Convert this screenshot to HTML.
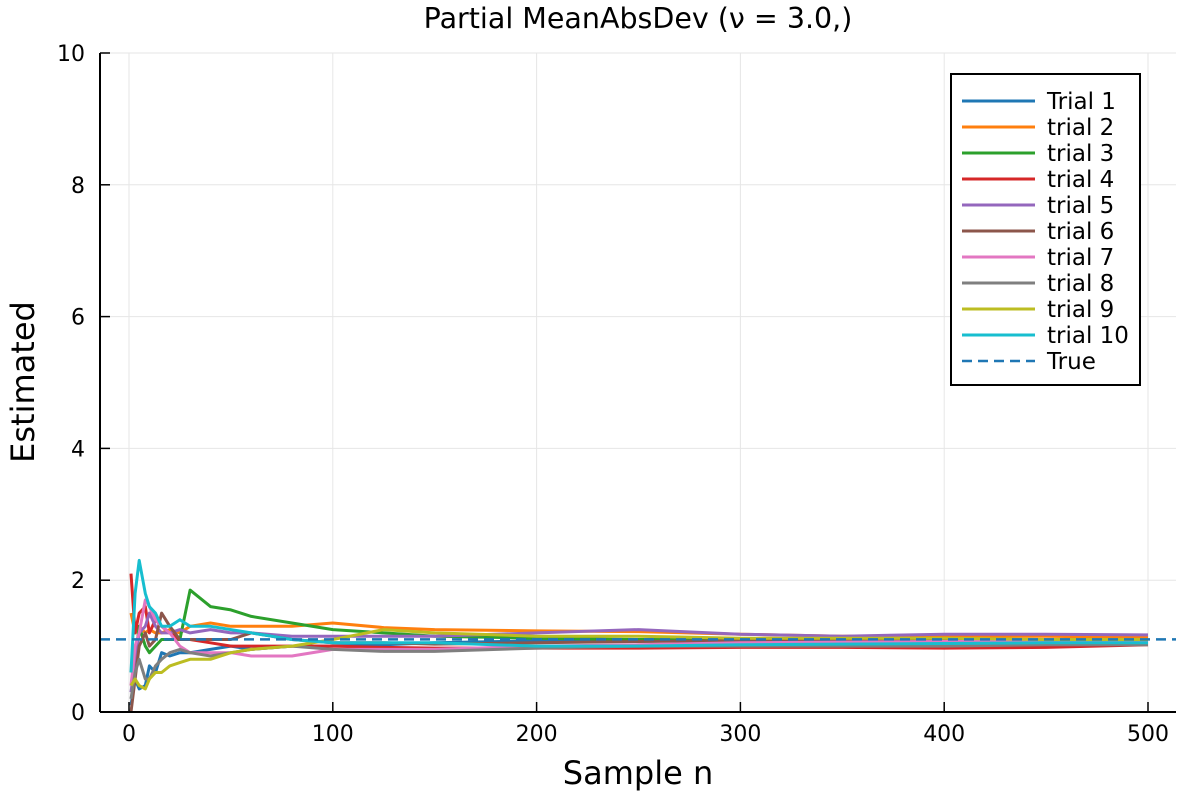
<!DOCTYPE html>
<html><head><meta charset="utf-8"><style>
body{margin:0;background:#fff;}
svg text{font-family:"DejaVu Sans","Liberation Sans",sans-serif;fill:#000;}
</style></head><body>
<svg id="chart" width="1200" height="800" xmlns="http://www.w3.org/2000/svg">
<rect width="1200" height="800" fill="#fff"/>
<g id="grid"></g>
<g id="series"></g>
<g id="axes"></g>
<text x="638" y="28" text-anchor="middle" font-size="28.5">Partial MeanAbsDev (ν = 3.0,)</text>
<text x="638" y="784" text-anchor="middle" font-size="32">Sample n</text>
<text transform="translate(34,382) rotate(-90)" text-anchor="middle" font-size="32">Estimated</text>
<g id="legend"></g>
</svg>
<script>
const sampleN=[1,3,5,8,10,13,16,20,25,30,40,50,60,80,100,125,150,200,250,300,350,400,450,500];
const seriesNames=["Trial 1","trial 2","trial 3","trial 4","trial 5","trial 6","trial 7","trial 8","trial 9","trial 10"];
const trial1=[0.1,0.5,0.35,0.4,0.7,0.6,0.9,0.85,0.9,0.9,0.95,1.0,0.95,1.0,1.0,1.02,1.05,1.08,1.1,1.1,1.1,1.1,1.1,1.1];
const trial2=[1.5,1.2,1.3,1.2,1.25,1.2,1.2,1.25,1.2,1.3,1.35,1.3,1.3,1.3,1.35,1.28,1.25,1.23,1.22,1.18,1.15,1.15,1.15,1.13];
const trial3=[0.6,0.8,1.3,1.0,0.9,1.0,1.1,1.1,1.1,1.85,1.6,1.55,1.45,1.35,1.25,1.2,1.15,1.12,1.1,1.1,1.1,1.1,1.1,1.09];
const trial4=[2.1,1.2,1.5,1.6,1.2,1.4,1.3,1.2,1.1,1.1,1.05,1.0,1.0,1.0,1.0,0.98,0.97,0.97,0.97,0.98,0.98,0.97,0.98,1.02];
const trial5=[0.3,0.8,1.2,1.3,1.5,1.3,1.2,1.2,1.25,1.2,1.25,1.2,1.2,1.15,1.15,1.15,1.15,1.2,1.25,1.18,1.15,1.18,1.18,1.17];
const trial6=[0.0,0.5,1.0,1.2,1.0,1.1,1.5,1.3,1.1,1.1,1.1,1.1,1.2,1.1,1.05,1.05,1.03,1.05,1.07,1.08,1.1,1.1,1.1,1.1];
const trial7=[0.4,1.0,1.2,1.7,1.6,1.4,1.3,1.2,1.0,0.9,0.9,0.9,0.85,0.85,0.95,0.95,0.95,1.0,1.02,1.05,1.06,1.07,1.07,1.07];
const trial8=[0.2,0.6,0.8,0.5,0.5,0.7,0.8,0.9,0.95,0.9,0.85,0.9,0.95,1.0,0.95,0.92,0.92,0.97,1.0,1.0,1.0,1.0,1.02,1.02];
const trial9=[0.4,0.5,0.4,0.35,0.5,0.6,0.6,0.7,0.75,0.8,0.8,0.9,0.95,1.0,1.1,1.25,1.2,1.15,1.15,1.12,1.12,1.12,1.1,1.1];
const trial10=[0.6,1.8,2.3,1.8,1.6,1.5,1.3,1.3,1.4,1.3,1.3,1.25,1.2,1.1,1.05,1.05,1.05,1.0,1.0,1.02,1.03,1.04,1.05,1.05];
const trueValue=1.1027;
const xTicks=[0,100,200,300,400,500];
const yTicks=[0,2,4,6,8,10];
const colors=["#1f77b4","#ff7f0e","#2ca02c","#d62728","#9467bd","#8c564b","#e377c2","#7f7f7f","#bcbd22","#17becf"];
const allSeries=[trial1,trial2,trial3,trial4,trial5,trial6,trial7,trial8,trial9,trial10];
const L=100,R=1176,T=53,B=712;
const X=v=>129+(v-0)*(1148-129)/500;
const Y=v=>B-(v-0)*(B-T)/10;
const NS="http://www.w3.org/2000/svg";
function mk(tag,attrs,parent){const e=document.createElementNS(NS,tag);for(const k in attrs)e.setAttribute(k,attrs[k]);parent.appendChild(e);return e;}
const grid=document.getElementById('grid'),axes=document.getElementById('axes'),ser=document.getElementById('series'),leg=document.getElementById('legend');
xTicks.forEach(t=>{
 const g=mk('line',{x1:X(t),x2:X(t),y1:T,y2:B,stroke:'#e6e6e6','stroke-width':1},grid);
 
 
 mk('line',{x1:X(t),x2:X(t),y1:B,y2:B-10,stroke:'#000','stroke-width':1.5},axes);
 const tx=mk('text',{x:X(t),y:B+29,'text-anchor':'middle','font-size':22},axes);
 tx.textContent=t;
 
 
});
yTicks.forEach(t=>{
 const g=mk('line',{x1:L,x2:R,y1:Y(t),y2:Y(t),stroke:'#e6e6e6','stroke-width':1},grid);
 
 
 mk('line',{x1:L,x2:L+10,y1:Y(t),y2:Y(t),stroke:'#000','stroke-width':1.5},axes);
 const tx=mk('text',{x:L-15,y:Y(t)+8,'text-anchor':'end','font-size':22},axes);
 tx.textContent=t;
 
 
});
const xa=mk('line',{x1:L,x2:R,y1:B,y2:B,stroke:'#000','stroke-width':2},axes);


const ya=mk('line',{x1:L,x2:L,y1:T,y2:B,stroke:'#000','stroke-width':2},axes);


allSeries.forEach((s,i)=>{
 const d=s.map((v,j)=>(j?'L':'M')+X(sampleN[j]).toFixed(1)+','+Y(v).toFixed(1)).join('');
 const p=mk('path',{d:d,fill:'none',stroke:colors[i],'stroke-width':3,'stroke-linejoin':'round'},ser);
 
 
});
const tl=mk('line',{x1:L,x2:R,y1:Y(trueValue),y2:Y(trueValue),stroke:'#1f77b4','stroke-width':2.5,'stroke-dasharray':'10,6'},ser);


const box=mk('rect',{x:951,y:74,width:189,height:311,fill:'#fff',stroke:'#000','stroke-width':2},leg);


const labels=seriesNames.concat(["True"]);
labels.forEach((n,i)=>{
 const y=101+i*26;
 const g=mk('g',{},leg);
 
 
 const isTrue=i===10;
 mk('line',{x1:962,x2:1035,y1:y,y2:y,stroke:isTrue?'#1f77b4':colors[i],'stroke-width':isTrue?2.5:3,'stroke-dasharray':isTrue?'10,6':'none'},g);
 const t=mk('text',{x:1047,y:y+8,'font-size':23},g);
 t.textContent=n;
});
</script>
</body></html>
